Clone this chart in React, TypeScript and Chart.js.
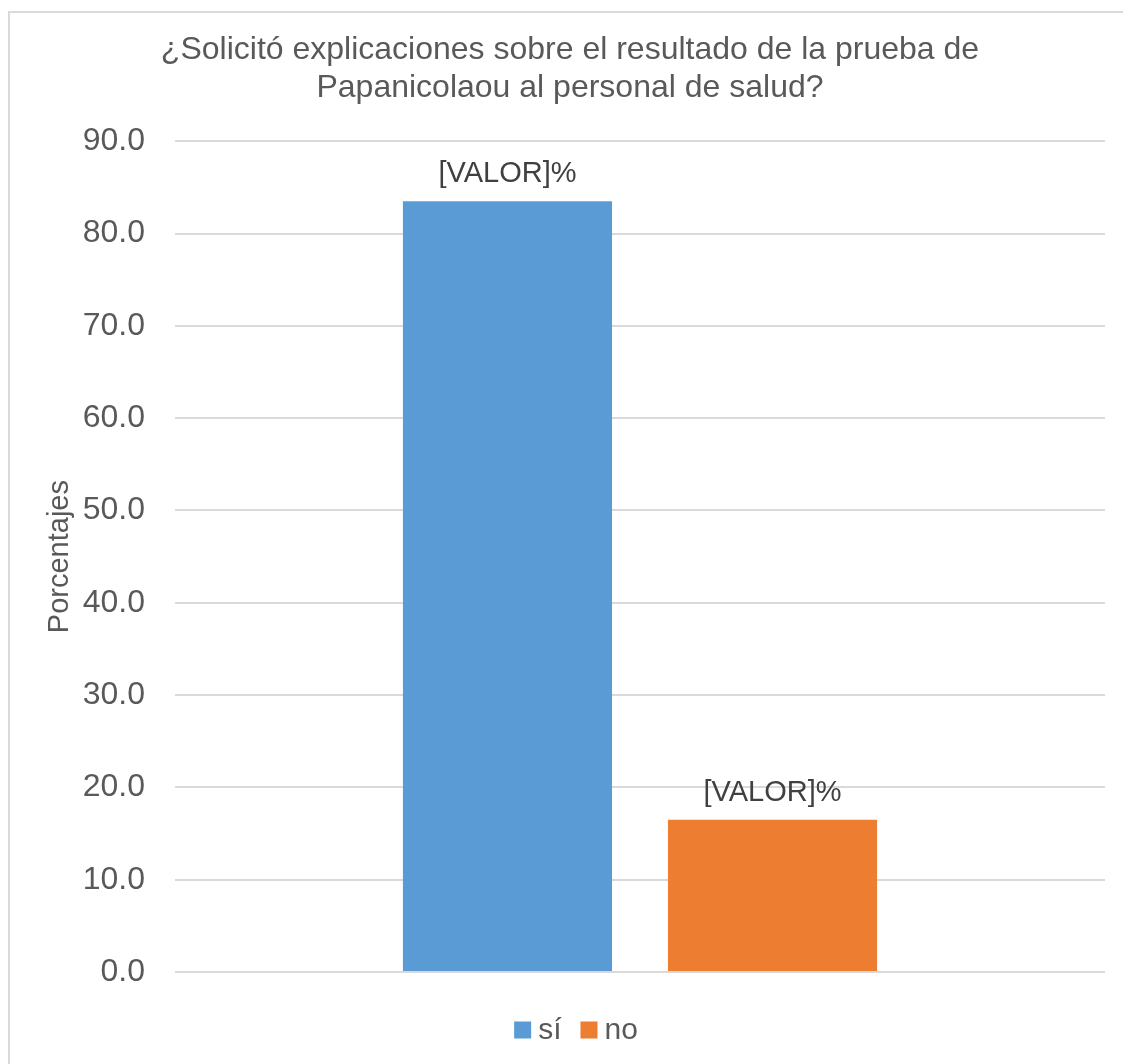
import React, { useEffect, useRef } from "react";
import { Chart, registerables } from "chart.js";

Chart.register(...registerables);

const categories = [""];
const seriesNames = ["sí", "no"];
const siValues = [83.5];
const noValues = [16.5];
const seriesColors = ["#5B9BD5", "#ED7D31"];
const yMin = 0;
const yMax = 90;
const yStep = 10;
const titleLines = [
  "¿Solicitó explicaciones sobre el resultado de la prueba de",
  "Papanicolaou al personal de salud?",
];
const yAxisTitle = "Porcentajes";
const dataLabelText = "[VALOR]%";

const FONT = '"Liberation Sans", Arial, sans-serif';

const dataLabelsPlugin = {
  id: "dataLabels",
  afterDatasetsDraw(chart: any) {
    const ctx = chart.ctx;
    ctx.save();
    ctx.font = `29px ${FONT}`;
    ctx.fillStyle = "#404040";
    ctx.textAlign = "center";
    ctx.textBaseline = "middle";
    chart.data.datasets.forEach((_ds: any, i: number) => {
      const meta = chart.getDatasetMeta(i);
      meta.data.forEach((el: any) => {
        ctx.fillText(dataLabelText, el.x, el.y - 27);
      });
    });
    ctx.restore();
  },
};

// Excel-style legend: square swatch, small gap, label text
const excelLegendPlugin = {
  id: "excelLegend",
  afterDraw(chart: any) {
    const ctx = chart.ctx;
    const box = 17;
    const textGap = 7;
    const itemGap = 19;
    ctx.save();
    ctx.font = `30px ${FONT}`;
    ctx.textBaseline = "middle";
    ctx.textAlign = "left";
    const items = chart.data.datasets.map((ds: any) => ({
      text: ds.label,
      color: ds.backgroundColor,
      w: ctx.measureText(ds.label).width,
    }));
    const total =
      items.reduce((s: number, it: any) => s + box + textGap + it.w, 0) +
      itemGap * (items.length - 1);
    let x = chart.width / 2 + 6 - total / 2;
    const cy = chart.chartArea.bottom + 58;
    items.forEach((it: any) => {
      ctx.fillStyle = it.color;
      ctx.fillRect(x, cy - box / 2, box, box);
      x += box + textGap;
      ctx.fillStyle = "#595959";
      ctx.fillText(it.text, x, cy + 1);
      x += it.w + itemGap;
    });
    ctx.restore();
  },
};

export default function App() {
  const canvasRef = useRef<HTMLCanvasElement | null>(null);

  useEffect(() => {
    const canvas = canvasRef.current;
    if (!canvas) return;
    const chart = new Chart(canvas, {
      type: "bar",
      data: {
        labels: categories,
        datasets: [
          {
            label: seriesNames[0],
            data: siValues,
            backgroundColor: seriesColors[0],
            borderWidth: 0,
          },
          {
            label: seriesNames[1],
            data: noValues,
            backgroundColor: seriesColors[1],
            borderWidth: 0,
          },
        ],
      },
      options: {
        animation: false,
        responsive: false,
        maintainAspectRatio: false,
        datasets: {
          bar: {
            categoryPercentage: 0.57,
            barPercentage: 0.789,
          },
        },
        layout: {
          padding: { left: 25, right: 25, top: 0, bottom: 101 },
        },
        plugins: {
          title: {
            display: true,
            text: titleLines,
            color: "#595959",
            font: { family: FONT, size: 32, weight: "normal", lineHeight: 1.16 },
            padding: { top: 19, bottom: 35 },
          },
          legend: { display: false },
          tooltip: { enabled: false },
        },
        scales: {
          x: {
            display: false,
          },
          y: {
            min: yMin,
            max: yMax,
            ticks: {
              stepSize: yStep,
              color: "#595959",
              font: { family: FONT, size: 32 },
              padding: 30,
              callback: (v: any) => Number(v).toFixed(1),
            },
            grid: {
              color: "#d9d9d9",
              lineWidth: 2,
              drawTicks: false,
            },
            border: { display: false },
            title: {
              display: true,
              text: yAxisTitle,
              color: "#595959",
              font: { family: FONT, size: 29, lineHeight: 1.2 },
              padding: { top: 7.6, bottom: -24.7 },
            },
          },
        },
      },
      plugins: [dataLabelsPlugin, excelLegendPlugin],
    });
    return () => chart.destroy();
  }, []);

  return (
    <div
      style={{
        position: "fixed",
        left: 0,
        top: 0,
        width: 1123,
        height: 1064,
        overflow: "hidden",
        background: "#ffffff",
      }}
    >
      <div
        style={{
          position: "absolute",
          left: 8,
          top: 11,
          width: 1120,
          height: 1060,
          border: "2px solid #d9d9d9",
        }}
      >
        <canvas
          ref={canvasRef}
          width={1120}
          height={1060}
          style={{ display: "block", width: 1120, height: 1060 }}
        />
      </div>
    </div>
  );
}
